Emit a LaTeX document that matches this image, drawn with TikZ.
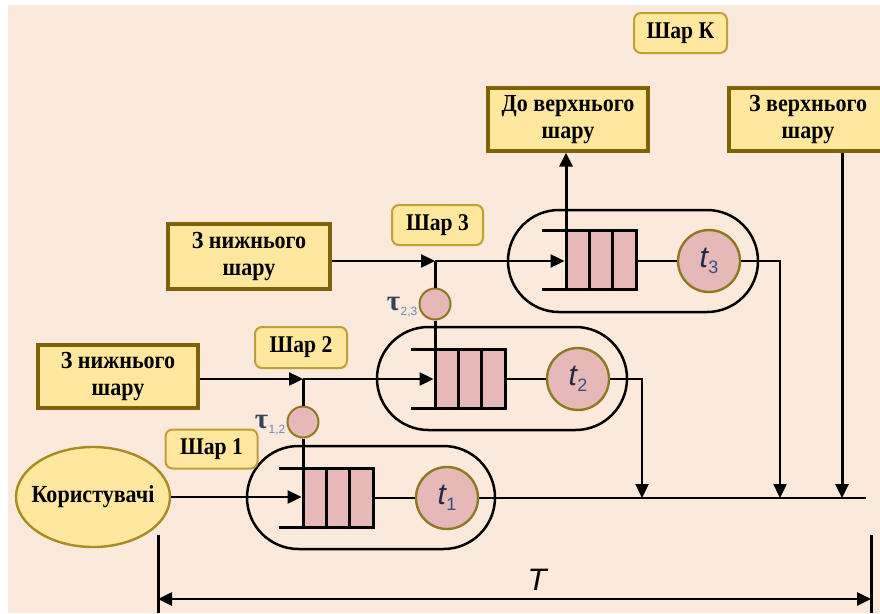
\documentclass[tikz,border=0pt]{standalone}
\usepackage{fontspec}
\setmainfont{Liberation Serif}
\newfontfamily\sansf{Liberation Sans}
\newfontfamily\boxfont[FakeStretch=0.9]{Liberation Serif}
\usetikzlibrary{arrows.meta,shapes.geometric}
\definecolor{bgpeach}{HTML}{FBEADC}
\definecolor{boxyellow}{HTML}{FFE79E}
\definecolor{boxbrown}{HTML}{7F6208}
\definecolor{lblgold}{HTML}{C29E38}
\definecolor{qpink}{HTML}{E6B9B8}
\definecolor{srvborder}{HTML}{8C7A1E}
\definecolor{userborder}{HTML}{A88C22}
\definecolor{taucol}{HTML}{34435A}
\definecolor{subcol}{HTML}{6B86B8}
\definecolor{tcol}{HTML}{1F2A44}
\definecolor{tsub}{HTML}{35507F}

% queue with three cells and the two open ticks on its left side
\newcommand\queuebox[3]{%
  \node[qbox] (#1) at (#2,#3) {};
  \draw[cellline] (#2-11.67,#3-29.5) -- (#2-11.67,#3+29.5);
  \draw[cellline] (#2+11.67,#3-29.5) -- (#2+11.67,#3+29.5);
  \draw[cellline] (#2-59,#3-29.5) -- (#2-35,#3-29.5);
  \draw[cellline] (#2-59,#3+29.5) -- (#2-35,#3+29.5);
  \coordinate (#1lt) at (#2-35,#3-29.5);
}
\newcommand\srvlabel[1]{{\color{tcol}\sansf\itshape\fontsize{30}{30}\selectfont t\kern0.5pt\raisebox{-6pt}{\color{tsub}\upshape\fontsize{18}{18}\selectfont #1}}}
\newcommand\taulabel[1]{{\color{taucol}\bfseries\fontsize{29}{29}\selectfont τ}\kern0.5pt\raisebox{-5pt}{\color{subcol}\sansf\fontsize{12}{12}\selectfont #1}}

\begin{document}
\begin{tikzpicture}[x=1pt,y=-1pt,
  ybox/.style={draw=boxbrown,line width=3.2pt,fill=boxyellow,align=center,inner sep=0pt,
    font=\boxfont\bfseries\fontsize{24.5}{27}\selectfont},
  lbox/.style={draw=lblgold,line width=2pt,fill=boxyellow,rounded corners=7pt,inner sep=0pt,
    font=\boxfont\bfseries\fontsize{24}{26}\selectfont},
  capsule/.style={line width=2.5pt},
  qbox/.style={draw,line width=3pt,fill=qpink,minimum width=70pt,minimum height=59pt,inner sep=0pt},
  cellline/.style={line width=3pt},
  server/.style={circle,draw=srvborder,line width=2.4pt,fill=qpink,minimum size=62pt,inner sep=0pt},
  taucirc/.style={circle,draw=srvborder,line width=2pt,fill=qpink,minimum size=31pt,inner sep=0pt},
  link/.style={line width=2.4pt},
  stem/.style={line width=3pt},
  tip/.style={-{Triangle[length=14pt,width=13pt]}},
  dimtips/.style={{Triangle[length=14pt,width=13pt]}-{Triangle[length=14pt,width=13pt]}},
]
\useasboundingbox (0,0) rectangle (880,613);
\fill[white] (0,0) rectangle (880,613);
\fill[bgpeach] (8,5) rectangle (880,613);

% layer capsules
\draw[capsule,rounded corners=51.5pt] (247,446) rectangle (495,549);
\draw[capsule,rounded corners=51.5pt] (377,327) rectangle (627,430);
\draw[capsule,rounded corners=51pt] (508,210) rectangle (758,312);

% labels and sources
\node[lbox,minimum width=93pt,minimum height=40pt] (shK) at (680.5,33) {Шар К};
\node[ybox,minimum width=160pt,minimum height=63pt] (upTo) at (568,119.5) {До верхнього\\шару};
\node[ybox,minimum width=158pt,minimum height=63pt] (fromUp) at (808,119.5) {З верхнього\\шару};
\node[ybox,minimum width=162pt,minimum height=65pt] (fromLow3) at (249,256.5) {З нижнього\\шару};
\node[ybox,minimum width=160pt,minimum height=63pt] (fromLow2) at (118,376.5) {З нижнього\\шару};
\node[ellipse,draw=userborder,line width=2.4pt,fill=boxyellow,minimum width=154pt,minimum height=100pt,
  inner xsep=-30pt,inner ysep=0pt,font=\boxfont\bfseries\fontsize{24.5}{26}\selectfont] (users) at (93,497) {Користувачі};
\node[lbox,minimum width=92pt,minimum height=39pt] (sh1) at (211.5,449) {Шар 1};
\node[lbox,minimum width=92pt,minimum height=41pt] (sh2) at (301,347.5) {Шар 2};
\node[lbox,minimum width=91pt,minimum height=40pt] (sh3) at (437.5,225) {Шар 3};

% queues and servers
\queuebox{q1}{338}{497.5}
\queuebox{q2}{470}{378.5}
\queuebox{q3}{601}{260}
\node[server] (s1) at (447,498) {\srvlabel{1}};
\node[server] (s2) at (578,379) {\srvlabel{2}};
\node[server] (s3) at (709,261) {\srvlabel{3}};

% inter-layer delays
\node[taucirc] (tau12) at (303,422) {};
\node[taucirc] (tau23) at (435,304) {};
\node[anchor=east,inner sep=1pt,yshift=-3pt] (tau12lab) at (tau12.west) {\taulabel{1,2}};
\node[anchor=east,inner sep=1pt,yshift=-3pt] (tau23lab) at (tau23.west) {\taulabel{2,3}};

% junctions and output bus
\coordinate (j2) at (303,379);
\coordinate (j3) at (435,261);
\coordinate (busend) at (866,498);
\coordinate (b2) at (642,498);
\coordinate (b3) at (780,498);
\coordinate (b4) at (842,498);

% layer 1
\draw[link,tip] (users) -- (q1.west |- users);
\draw[link] (q1.east |- s1) -- (s1);
\draw[link] (s1.east) -- (busend);

% layer 2
\draw[link,tip] (fromLow2.east |- j2) -- (j2);
\draw[link,tip] (j2) -- (q2.west |- j2);
\draw[stem] (j2) -- (tau12.north);
\draw[stem] (tau12.south) -- (q1lt);
\draw[link] (q2.east |- s2) -- (s2);
\draw[link,tip] (s2.east) -| (b2);

% layer 3
\draw[link,tip] (fromLow3.east |- j3) -- (j3);
\draw[link,tip] (j3) -- (q3.west |- j3);
\draw[stem] (j3) -- (tau23.north);
\draw[stem] (tau23.south) -- (q2lt);
\draw[link] (q3.east |- s3) -- (s3);
\draw[link,tip] (s3.east) -| (b3);
\draw[stem,tip] (q3lt) -- (q3lt |- upTo.south);
\draw[stem,tip] (b4 |- fromUp.south) -- (b4);

% period T
\coordinate (dl) at (158,535);
\coordinate (dlb) at (158,613);
\coordinate (dr) at (871,535);
\coordinate (drb) at (871,613);
\coordinate (da) at (158,599);
\coordinate (db) at (871,599);
\draw[line width=3pt] (dl) -- (dlb);
\draw[line width=3pt] (dr) -- (drb);
\draw[line width=2.6pt,dimtips] (da) -- (db);
\node[font=\sansf\itshape\fontsize{31}{31}\selectfont] (Tlab) at (537,580) {T};
\end{tikzpicture}
\end{document}
